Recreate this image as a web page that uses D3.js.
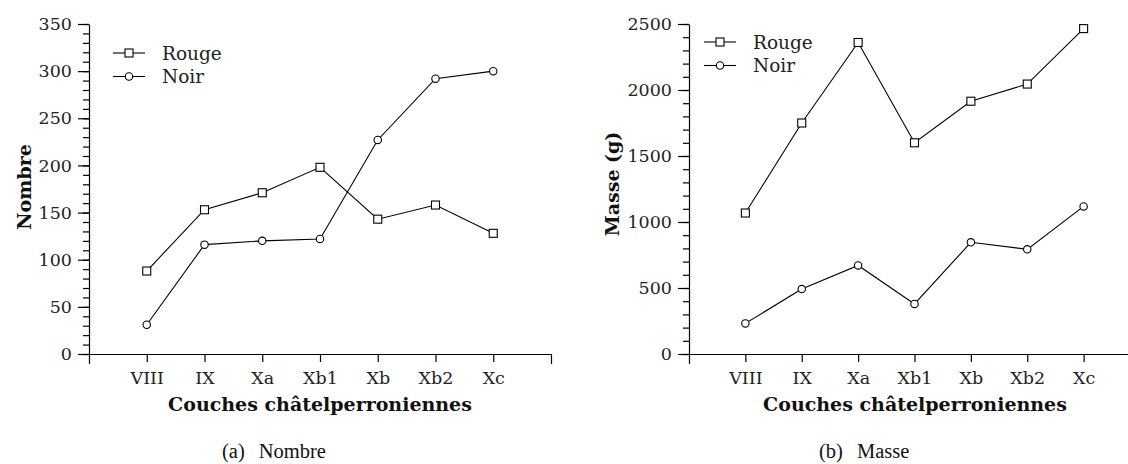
<!DOCTYPE html>
<html>
<head>
<meta charset="utf-8">
<script src="https://cdn.jsdelivr.net/npm/d3@7"></script>
<style>
	body { margin: 0; background: #fff; }
	svg { display: block; }
	.axis text { font-family: "DejaVu Serif", serif; font-size: 17.5px; fill: #222; }
	.axis path, .axis line { stroke: #000; stroke-width: 1.2; }
</style>
</head>
<body>
<div id="chart"></div>
<script>

// couches (axe x)
const couches = ['VIII', 'IX', 'Xa', 'Xb1', 'Xb', 'Xb2', 'Xc'];

// (a) Nombre
const nombreRouge = [88, 153, 171, 198, 143, 158, 128];
const nombreNoir = [31, 116, 120, 122, 227, 292, 300];
const nombreTicks = [0, 50, 100, 150, 200, 250, 300, 350];

// (b) Masse
const masseRouge = [1068, 1750, 2360, 1600, 1915, 2045, 2465];
const masseNoir = [232, 492, 671, 379, 846, 793, 1118];
const masseTicks = [0, 500, 1000, 1500, 2000, 2500];

const seriesNames = ['Rouge', 'Noir'];

const width = 1128;
const height = 464;

const svg = d3.select('#chart')
	.append('svg')
		.attr('width', width)
		.attr('height', height);

function drawPanel(opts) {

	let g = svg.append('g');

	let x = d3.scaleLinear()
		.domain([-1, couches.length])
		.range([opts.left, opts.right]);

	let y = d3.scaleLinear()
		.domain([0, opts.max])
		.range([354, 24]);

	// minor ticks
	g.append('g')
		.attr('class', 'axis')
		.attr('transform', `translate(${opts.left}, 0)`)
		.call(d3.axisLeft(y).tickValues(d3.range(0, opts.max + 1, opts.minor)).tickSize(6).tickSizeOuter(0).tickFormat(''))
		.select('.domain').remove();

	g.append('g')
		.attr('class', 'axis')
		.attr('transform', `translate(${opts.left}, 0)`)
		.call(d3.axisLeft(y).tickValues(opts.ticks).tickSize(11).tickSizeOuter(0).tickPadding(6).tickFormat(d3.format('d')));

	g.append('g')
		.attr('class', 'axis')
		.attr('transform', 'translate(0, 354)')
		.call(d3.axisBottom(x)
			.tickValues(d3.range(couches.length))
			.tickFormat(function(i) { return couches[i]; })
			.tickSize(8)
			.tickSizeOuter(10)
			.tickPadding(10));

	let line = d3.line()
		.x(function(d, i) { return x(i); })
		.y(function(d) { return y(d); });

	[opts.rouge, opts.noir].forEach(function(values, s) {
		g.append('path')
			.attr('d', line(values))
			.attr('fill', 'none')
			.attr('stroke', '#000')
			.attr('stroke-width', 1.1);

		let marks = g.selectAll('.m' + s)
			.data(values)
			.enter();

		if (s == 0) {
			marks.append('rect')
				.attr('x', function(d, i) { return x(i) - 4; })
				.attr('y', function(d) { return y(d) - 4; })
				.attr('width', 8)
				.attr('height', 8)
				.attr('fill', '#fff')
				.attr('stroke', '#000')
				.attr('stroke-width', 1.1);
		} else {
			marks.append('circle')
				.attr('cx', function(d, i) { return x(i); })
				.attr('cy', function(d) { return y(d); })
				.attr('r', 3.7)
				.attr('fill', '#fff')
				.attr('stroke', '#000')
				.attr('stroke-width', 1.1);
		}
	});

	// legend
	seriesNames.forEach(function(name, s) {
		let ly = opts.legendY + s * 23.5;
		let lx = opts.legendX;
		g.append('line')
			.attr('x1', lx).attr('x2', lx + 32)
			.attr('y1', ly).attr('y2', ly)
			.attr('stroke', '#000')
			.attr('stroke-width', 1.1);
		if (s == 0) {
			g.append('rect')
				.attr('x', lx + 16 - 4).attr('y', ly - 4)
				.attr('width', 8).attr('height', 8)
				.attr('fill', '#fff').attr('stroke', '#000').attr('stroke-width', 1.1);
		} else {
			g.append('circle')
				.attr('cx', lx + 16).attr('cy', ly).attr('r', 3.7)
				.attr('fill', '#fff').attr('stroke', '#000').attr('stroke-width', 1.1);
		}
		g.append('text')
			.attr('x', lx + 49)
			.attr('y', ly + 6.5)
			.style('font-family', '"DejaVu Serif", serif')
			.style('font-size', '18.5px')
			.attr('fill', '#222')
			.text(name);
	});

	// axis titles
	g.append('text')
		.attr('x', opts.xTitleX)
		.attr('y', 411)
		.attr('text-anchor', 'middle')
		.style('font-family', '"DejaVu Serif", serif')
		.style('font-weight', 'bold')
		.style('font-size', '19px')
		.attr('fill', '#111')
		.text('Couches châtelperroniennes');

	g.append('text')
		.attr('transform', `translate(${opts.yTitleX}, ${opts.yTitleY}) rotate(-90)`)
		.attr('text-anchor', 'middle')
		.style('font-family', '"DejaVu Serif", serif')
		.style('font-weight', 'bold')
		.style('font-size', '19px')
		.attr('fill', '#111')
		.text(opts.yTitle);

	// caption
	let cap = g.append('text')
		.attr('x', opts.captionX)
		.attr('y', 458)
		.style('font-family', '"Liberation Serif", serif')
		.style('font-size', '20.5px')
		.attr('fill', '#111');
	cap.append('tspan').text(opts.caption[0]);
	cap.append('tspan').attr('dx', 14).text(opts.caption[1]);
}

drawPanel({
	left: 89, right: 551, max: 350, minor: 10, ticks: nombreTicks,
	rouge: nombreRouge, noir: nombreNoir,
	legendX: 113, legendY: 53,
	xTitleX: 320, yTitleX: 31, yTitleY: 187,
	yTitle: 'Nombre', caption: ['(a)', 'Nombre'], captionX: 222
});

drawPanel({
	left: 689, right: 1140, max: 2500, minor: 100, ticks: masseTicks,
	rouge: masseRouge, noir: masseNoir,
	legendX: 704, legendY: 42,
	xTitleX: 915, yTitleX: 619, yTitleY: 184,
	yTitle: 'Masse (g)', caption: ['(b)', 'Masse'], captionX: 819
});

</script>
</body>
</html>
